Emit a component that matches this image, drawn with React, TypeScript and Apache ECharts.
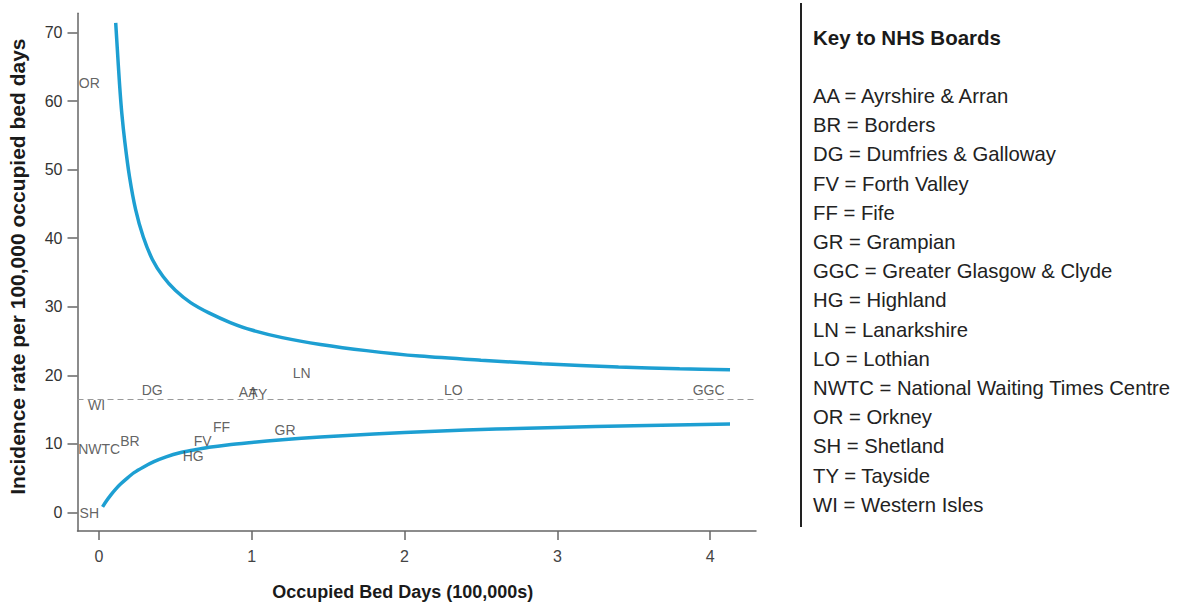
import React, { useEffect, useRef } from "react";
import * as echarts from "echarts";

// Funnel plot of incidence rate against occupied bed days, by NHS Board.

// Control limits (incidence per 100,000 occupied bed days) against bed days (100,000s)
const upperX = [0.11, 0.12, 0.135, 0.15, 0.17, 0.2, 0.24, 0.29, 0.35, 0.42, 0.5, 0.6, 0.72, 0.86, 1.0, 1.2, 1.45, 1.75, 2.1, 2.5, 2.9, 3.4, 3.8, 4.13];
const upperY = [71.4, 67.8, 62.5, 58.2, 54.0, 49.0, 44.2, 40.2, 36.9, 34.4, 32.4, 30.6, 29.1, 27.7, 26.6, 25.5, 24.5, 23.6, 22.8, 22.2, 21.7, 21.2, 20.95, 20.8];
const lowerX = [0.024, 0.05, 0.08, 0.11, 0.14, 0.18, 0.23, 0.29, 0.36, 0.44, 0.53, 0.62, 0.72, 0.84, 1.0, 1.2, 1.45, 1.8, 2.2, 2.6, 3.0, 3.5, 4.13];
const lowerY = [0.8, 1.7, 2.6, 3.4, 4.1, 4.9, 5.8, 6.6, 7.4, 8.1, 8.7, 9.1, 9.5, 9.85, 10.2, 10.6, 11.0, 11.45, 11.85, 12.15, 12.4, 12.65, 12.9];

// Scotland-wide mean rate
const MEAN_RATE = 16.5;

// Board codes with bed days (100,000s) and incidence rate
const boardCodes = ["OR", "WI", "DG", "AA", "TY", "LN", "LO", "GGC", "NWTC", "BR", "FV", "FF", "HG", "GR", "SH"];
const boardBedDays = [-0.063, -0.015, 0.349, 0.977, 1.043, 1.327, 2.32, 3.99, 0.002, 0.203, 0.679, 0.803, 0.617, 1.218, -0.063];
const boardRates = [62.7, 15.7, 17.85, 17.5, 17.3, 20.4, 17.9, 17.9, 9.2, 10.4, 10.45, 12.5, 8.2, 12.0, -0.15];

// Axis ticks
const xTicks = [0, 1, 2, 3, 4];
const yTicks = [0, 10, 20, 30, 40, 50, 60, 70];

// Key to board codes
const keyTitle = "Key to NHS Boards";
const keyCodes = ["AA", "BR", "DG", "FV", "FF", "GR", "GGC", "HG", "LN", "LO", "NWTC", "OR", "SH", "TY", "WI"];
const keyNames = [
  "Ayrshire & Arran",
  "Borders",
  "Dumfries & Galloway",
  "Forth Valley",
  "Fife",
  "Grampian",
  "Greater Glasgow & Clyde",
  "Highland",
  "Lanarkshire",
  "Lothian",
  "National Waiting Times Centre",
  "Orkney",
  "Shetland",
  "Tayside",
  "Western Isles",
];

const FONT = "'Liberation Sans', Arial, Helvetica, sans-serif";
const CURVE = "#1d9fd2";
const AXIS = "#666666";

export default function App() {
  const ref = useRef<HTMLDivElement>(null);

  useEffect(() => {
    if (!ref.current) return;
    const chart = echarts.init(ref.current, null, { renderer: "svg" });

    const keyRows: any[] = keyCodes.map((code, i) => ({
      type: "text",
      x: 813,
      y: 96 + i * 29.2,
      style: {
        text: `${code} = ${keyNames[i]}`,
        fontSize: 20.3,
        fontFamily: FONT,
        fill: "#222222",
        verticalAlign: "middle",
        align: "left",
      },
    }));

    chart.setOption({
      animation: false,
      textStyle: { fontFamily: FONT },
      grid: {
        left: 77.5,
        top: 13.3,
        right: 437,
        bottom: 75,
        containLabel: false,
        outerBoundsMode: "none",
      },
      xAxis: {
        type: "value",
        min: -0.14,
        max: 4.3,
        name: "Occupied Bed Days (100,000s)",
        nameLocation: "middle",
        nameGap: 52,
        nameTextStyle: {
          fontSize: 18,
          fontWeight: "bold",
          color: "#1a1a1a",
          fontFamily: FONT,
          padding: [0, 28, 0, 0],
        },
        axisLine: { show: true, onZero: false, lineStyle: { color: AXIS, width: 1.5 } },
        axisTick: { show: true, length: 9, customValues: xTicks, lineStyle: { color: AXIS, width: 1.5 } },
        axisLabel: { customValues: xTicks, fontSize: 16, color: "#444444", margin: 17 },
        splitLine: { show: false },
      },
      yAxis: {
        type: "value",
        min: -2.71,
        max: 72.8,
        name: "Incidence rate per 100,000 occupied bed days",
        nameLocation: "middle",
        nameGap: 50,
        nameTextStyle: {
          fontSize: 21,
          fontWeight: "bold",
          color: "#1a1a1a",
          fontFamily: FONT,
          padding: [0, 0, 0, 11],
        },
        axisLine: { show: true, onZero: false, lineStyle: { color: AXIS, width: 1.5 } },
        axisTick: { show: true, length: 10, customValues: yTicks, lineStyle: { color: AXIS, width: 1.5 } },
        axisLabel: { customValues: yTicks, fontSize: 16, color: "#333333", margin: 15 },
        splitLine: { show: false },
      },
      series: [
        {
          name: "Upper limit",
          type: "line",
          smooth: 0.3,
          showSymbol: false,
          symbol: "none",
          data: upperX.map((x, i) => [x, upperY[i]]),
          lineStyle: { color: CURVE, width: 3.5 },
        },
        {
          name: "Lower limit",
          type: "line",
          smooth: 0.3,
          showSymbol: false,
          symbol: "none",
          data: lowerX.map((x, i) => [x, lowerY[i]]),
          lineStyle: { color: CURVE, width: 3.5 },
          markLine: {
            silent: true,
            symbol: ["none", "none"],
            label: { show: false },
            lineStyle: { color: "#9a9a9a", width: 1.2, type: [6, 4] },
            data: [{ yAxis: MEAN_RATE }],
          },
        },
        {
          name: "Boards",
          type: "scatter",
          symbolSize: 0,
          data: boardCodes.map((c, i) => ({ name: c, value: [boardBedDays[i], boardRates[i]] })),
          label: {
            show: true,
            position: "inside",
            formatter: "{b}",
            fontSize: 14,
            color: "#3a3a3a",
            align: "center",
            verticalAlign: "middle",
          },
          z: 5,
        },
      ],
      graphic: [
        {
          type: "line",
          shape: { x1: 801, y1: 3, x2: 801, y2: 527 },
          style: { stroke: "#222222", lineWidth: 2 },
        },
        {
          type: "text",
          x: 813,
          y: 37,
          style: {
            text: keyTitle,
            fontSize: 20.5,
            fontWeight: "bold",
            fontFamily: FONT,
            fill: "#1a1a1a",
            verticalAlign: "middle",
            align: "left",
          },
        },
        ...keyRows,
      ],
    });

    return () => {
      chart.dispose();
    };
  }, []);

  return (
    <div
      ref={ref}
      style={{ position: "absolute", left: 0, top: 0, width: 1193, height: 606, background: "#ffffff" }}
    />
  );
}
